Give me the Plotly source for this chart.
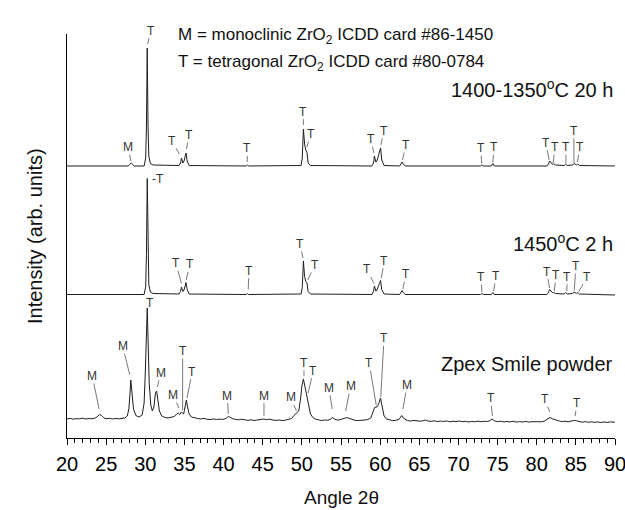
import plotly.graph_objects as go

# ---------------- data ----------------
tick_vals = [20, 25, 30, 35, 40, 45, 50, 55, 60, 65, 70, 75, 80, 85, 90]

# 1400-1350 C 20 h pattern
top_angle = [
    20, 27.8,
    28.0, 28.2, 28.4, 28.6,
    29.85, 30.05, 30.15, 30.25, 30.35, 30.45, 30.65, 31.0,
    34.3, 34.5, 34.62, 34.8, 34.95, 35.05, 35.2, 35.35, 35.6,
    42.9, 43.05, 43.2,
    49.9, 50.05, 50.2, 50.35, 50.5, 50.65, 50.8, 51.1,
    58.95, 59.15, 59.27, 59.45, 59.6, 59.9, 60.06, 60.2, 60.5,
    62.5, 62.7, 62.8, 62.95, 63.2,
    72.8, 73.0, 73.2,
    74.2, 74.4, 74.6,
    81.3, 81.5, 81.65, 81.8, 82.0, 82.15, 82.4,
    83.5, 83.7, 83.9,
    84.6, 84.78, 84.95, 85.1, 85.25, 85.45,
    90]
top_int = [
    0, 0,
    1.5, 3, 1.5, 0,
    0, 8, 40, 118, 40, 10, 2.5, 1,
    0.5, 3, 8, 3, 5, 9, 13, 5, 0.5,
    0, 1.2, 0,
    0.5, 8, 37, 22, 16, 14, 3, 0.5,
    0, 3, 10, 4, 5, 14, 18, 6, 0.5,
    0, 2, 4, 2, 0,
    0, 1, 0,
    0, 2.5, 0,
    0, 2, 5, 3.5, 1.8, 2.2, 1,
    0.5, 2, 0.5,
    1, 2.5, 1.5, 1, 2, 0.5,
    0]

# 1450 C 2 h pattern
mid_angle = [
    20, 27.8,
    28.0, 28.2, 28.4, 28.6,
    29.85, 30.05, 30.15, 30.25, 30.35, 30.45, 30.65, 31.0,
    34.3, 34.5, 34.62, 34.8, 34.95, 35.05, 35.2, 35.35, 35.6,
    42.9, 43.05, 43.2,
    49.9, 50.05, 50.2, 50.35, 50.5, 50.65, 50.8, 51.1,
    58.95, 59.15, 59.27, 59.45, 59.6, 59.9, 60.06, 60.2, 60.5,
    62.5, 62.7, 62.8, 62.95, 63.2,
    72.8, 73.0, 73.2,
    74.2, 74.4, 74.6,
    81.3, 81.5, 81.65, 81.8, 82.0, 82.15, 82.4,
    83.5, 83.7, 83.9,
    84.6, 84.78, 84.95, 85.1, 85.25, 85.45,
    90]
mid_int = [
    0, 0,
    0, 0.3, 0, 0,
    0, 8, 40, 116, 40, 10, 2.5, 1,
    0.5, 3, 7.5, 3, 4.5, 8, 12, 5, 0.5,
    0, 1, 0,
    0.5, 7, 33.5, 18, 13, 12, 3, 0.5,
    0, 3, 8.5, 3.5, 4.5, 11, 14, 5, 0.5,
    0, 2, 4, 2, 0,
    0, 1, 0,
    0, 2, 0,
    0, 2, 5, 3.5, 1.8, 2, 1,
    0.5, 2, 0.5,
    1, 2.5, 1.5, 1, 2, 0.5,
    -0.5]

# Zpex Smile powder pattern
bot_angle = [
    20.0, 20.4, 20.8, 21.2, 21.6, 22.0, 22.4, 22.8, 23.2, 23.6,
    23.9, 24.15, 24.4, 24.7, 25.0, 25.4, 25.8, 26.2, 26.6, 27.0,
    27.4, 27.7, 27.9, 28.05, 28.15, 28.3, 28.5, 28.8, 29.2, 29.6,
    29.85, 30.0, 30.15, 30.25, 30.35, 30.5, 30.7, 30.9, 31.1, 31.3,
    31.45, 31.6, 31.8, 32.1, 32.5, 32.9, 33.3, 33.7, 34.0, 34.2,
    34.4, 34.6, 34.75, 34.9, 35.1, 35.25, 35.4, 35.6, 35.9, 36.3,
    36.7, 37.1, 37.5, 37.9, 38.3, 38.7, 39.1, 39.5, 39.9, 40.3,
    40.6, 40.8, 41.1, 41.5, 41.9, 42.3, 42.7, 43.1, 43.5, 43.9,
    44.3, 44.7, 45.1, 45.5, 45.9, 46.3, 46.7, 47.1, 47.5, 47.9,
    48.3, 48.7, 49.0, 49.3, 49.6, 49.85, 50.0, 50.2, 50.4, 50.6,
    50.75, 50.9, 51.1, 51.4, 51.7, 52.1, 52.5, 52.9, 53.3, 53.6,
    53.9, 54.2, 54.6, 55.0, 55.4, 55.7, 56.0, 56.4, 56.8, 57.2,
    57.6, 58.0, 58.4, 58.8, 59.1, 59.3, 59.6, 59.85, 60.05, 60.25,
    60.5, 60.8, 61.2, 61.6, 62.0, 62.4, 62.75, 63.1, 63.5, 63.9,
    64.3, 64.7, 65.1, 65.5, 65.8, 66.1, 66.5, 66.9, 67.3, 67.7,
    68.1, 68.5, 68.9, 69.3, 69.7, 70.1, 70.5, 70.9, 71.3, 71.7,
    72.1, 72.5, 72.9, 73.3, 73.7, 74.0, 74.3, 74.6, 75.0, 75.4,
    75.8, 76.2, 76.6, 77.0, 77.4, 77.8, 78.2, 78.6, 79.0, 79.4,
    79.8, 80.2, 80.6, 81.0, 81.4, 81.7, 82.0, 82.4, 82.8, 83.2,
    83.6, 84.0, 84.4, 84.8, 85.1, 85.4, 85.8, 86.2, 86.6, 87.0,
    87.4, 87.8, 88.2, 88.6, 89.0, 89.4, 89.8, 90.0]
bot_int = [
    4.0, 4.6, 3.8, 4.4, 4.1, 4.8, 4.0, 4.5, 4.2, 5.0,
    6.5, 8.5, 7.5, 5.2, 4.3, 4.7, 4.0, 4.5, 4.2, 4.9,
    5.0, 7.0, 14, 30, 43, 30, 14, 7.5, 6.0, 8.0,
    20, 50, 95, 115, 85, 40, 18, 12, 16, 30,
    32, 22, 12, 7.0, 5.5, 5.0, 5.4, 6.5, 9.0, 10,
    8.5, 11, 10, 9.0, 17, 23, 16, 9.0, 6.0, 5.0,
    4.5, 4.0, 4.6, 3.8, 3.4, 4.1, 3.5, 3.9, 3.6, 4.5,
    6.5, 6.0, 4.5, 3.6, 3.2, 3.8, 3.0, 2.6, 3.2, 2.5,
    3.0, 3.6, 4.0, 3.4, 3.8, 3.0, 2.6, 3.0, 2.4, 2.9,
    3.4, 4.5, 7.5, 9.5, 12, 25, 37, 44, 36, 28,
    20, 14, 9.0, 5.5, 4.0, 3.2, 2.5, 3.0, 2.7, 3.5,
    5.5, 3.8, 2.8, 3.6, 5.0, 5.4, 4.8, 3.5, 2.7, 2.4,
    2.8, 2.5, 3.3, 5.0, 11, 15.5, 16, 20, 25, 16,
    7.0, 4.0, 3.0, 2.4, 2.7, 3.5, 7.5, 4.0, 2.4, 2.0,
    2.6, 2.2, 1.8, 2.3, 3.0, 2.0, 1.6, 2.2, 1.4, 1.9,
    1.5, 2.1, 1.2, 1.8, 1.4, 2.0, 1.3, 1.7, 1.0, 1.6,
    1.2, 1.9, 1.3, 1.7, 1.5, 2.2, 4.0, 2.2, 1.3, 1.8,
    1.0, 1.5, 1.1, 1.7, 0.9, 1.4, 1.0, 1.6, 0.9, 1.3,
    1.1, 1.6, 1.2, 2.0, 3.8, 5.5, 4.2, 3.0, 2.2, 1.4,
    1.9, 1.2, 1.8, 2.6, 2.2, 1.3, 0.8, 1.4, 0.7, 1.2,
    0.6, 1.1, 0.5, 1.0, 0.6, 1.1, 0.5, 0.8]

# peak labels: text, label position, leader-line tip (None = no line)
top_lbl_text = ['M', 'T', 'T', 'T', 'T', 'T', 'T', 'T', 'T', 'T', 'T', 'T', 'T', 'T', 'T', 'T', 'T']
top_lbl_x = [27.83, 30.73, 33.37, 35.62, 43.03, 50.18, 51.12, 58.82, 60.49, 63.3, 72.84, 74.53, 81.17, 82.33, 83.73, 84.75, 85.52]
top_lbl_h = [19, 135.3, 25.3, 31, 17.7, 54.3, 32, 26.7, 35.3, 21, 17.7, 18.7, 23.3, 18.7, 18.7, 35.3, 18.7]
top_tip_x = [28.15, 30.3, 34.35, 35.25, 43.03, 50.2, 50.65, 59.2, 60.1, 62.85, 72.97, 74.4, 81.58, 82.1, 83.73, 84.75, 85.2]
top_tip_h = [5, 122, 12, 17, 4, 41, 19, 13, 21, 6, 2.5, 4, 6, 3, 3, 3, 4]

mid_lbl_text = ['-T', 'T', 'T', 'T', 'T', 'T', 'T', 'T', 'T', 'T', 'T', 'T', 'T', 'T', 'T', 'T']
mid_lbl_x = [31.56, 33.92, 35.7, 43.24, 49.76, 51.67, 58.35, 60.53, 63.3, 72.87, 74.79, 81.26, 82.45, 83.9, 85.0, 86.45]
mid_lbl_h = [115.2, 31.2, 30.2, 23.8, 50.5, 29.5, 25.2, 33.8, 20.5, 17.2, 18.5, 22.8, 19.5, 17.8, 28.5, 17.8]
mid_tip_x = [None, 34.62, 35.22, 43.15, 50.15, 50.75, 59.2, 60.15, 62.9, 73.0, 74.5, 81.65, 82.25, 83.85, 84.8, 85.4]
mid_tip_h = [None, 11, 14.5, 5, 36.5, 14.5, 11, 16.5, 5.5, 2.5, 3.5, 6.5, 3.5, 3.5, 4, 3]

bot_lbl_text = ['M', 'M', 'T', 'M', 'M', 'T', 'T', 'M', 'M', 'M', 'T', 'T', 'M', 'M', 'T', 'T', 'M', 'T', 'T', 'T']
bot_lbl_x = [23.23, 27.11, 30.6, 31.96, 33.58, 34.77, 36.0, 40.47, 45.16, 48.6, 50.27, 51.46, 53.46, 56.23, 58.6, 60.49, 63.46, 74.11, 81.05, 85.17]
bot_lbl_h = [47, 77, 120.3, 50.3, 28, 72, 51.3, 27.3, 27.3, 25.7, 60.3, 52.3, 35.3, 37, 59.7, 84.7, 38, 24.7, 24, 19.7]
bot_tip_x = [24.1, 28.02, None, 31.55, 34.3, 34.77, 35.33, 40.6, 45.16, 49.3, 50.27, 50.8, 53.88, 55.6, 59.5, 60.08, 62.9, 74.35, 81.65, 84.9]
bot_tip_h = [14, 48, None, 36, 15, 13, 25, 9, 7, 12, 47, 30, 14, 12, 18, 26, 14, 7, 11, 7]

pattern_names = ['1400-1350<sup>o</sup>C 20 h', '1450<sup>o</sup>C 2 h', 'Zpex Smile powder']
legend_lines = ['M = monoclinic ZrO<sub>2</sub> ICDD card #86-1450',
                'T = tetragonal ZrO<sub>2</sub> ICDD card #80-0784']

# ---------------- layout constants ----------------
offsets = [272, 143.5, 15]          # vertical stacking offsets
name_y = [349.5, 195.5, 74]
FONT = 'Liberation Sans, Arial, sans-serif'
LINE_COL = '#1e1e1e'

fig = go.Figure()
patterns = [(top_angle, top_int), (mid_angle, mid_int), (bot_angle, bot_int)]
for (ax_, it_), off in zip(patterns, offsets):
    fig.add_trace(go.Scatter(x=ax_, y=[v + off for v in it_], mode='lines',
                             line=dict(color=LINE_COL, width=1), hoverinfo='skip'))

annotations = []
label_sets = [
    (top_lbl_text, top_lbl_x, top_lbl_h, top_tip_x, top_tip_h),
    (mid_lbl_text, mid_lbl_x, mid_lbl_h, mid_tip_x, mid_tip_h),
    (bot_lbl_text, bot_lbl_x, bot_lbl_h, bot_tip_x, bot_tip_h),
]
for (txt, lx, lh, tx, th), off in zip(label_sets, offsets):
    for t, x0, h0, x1, h1 in zip(txt, lx, lh, tx, th):
        if x1 is None:
            annotations.append(dict(x=x0, y=h0 + off, xref='x', yref='y', text=t,
                                    showarrow=False, font=dict(family=FONT, size=12, color='#333')))
        else:
            annotations.append(dict(x=x1, y=h1 + off, ax=x0, ay=h0 + off,
                                    xref='x', yref='y', axref='x', ayref='y', text=t,
                                    showarrow=True, arrowhead=0, arrowwidth=0.8,
                                    arrowcolor='#555', standoff=0, borderpad=0,
                                    font=dict(family=FONT, size=12, color='#333')))

for name, y in zip(pattern_names, name_y):
    annotations.append(dict(x=90, y=y, xref='x', yref='y', text=name, showarrow=False,
                            xanchor='right', yanchor='middle',
                            font=dict(family=FONT, size=20, color='#111')))

for line, y in zip(legend_lines, [402, 375.3]):
    annotations.append(dict(x=33.95, y=y, xref='x', yref='y', text=line, showarrow=False,
                            xanchor='left', yanchor='middle',
                            font=dict(family=FONT, size=17, color='#111')))

annotations.append(dict(x=0.5, y=-0.148, xref='paper', yref='paper', text='Angle 2θ',
                        showarrow=False, xanchor='center', yanchor='middle',
                        font=dict(family=FONT, size=19, color='#111')))
annotations.append(dict(x=-0.0584, y=0.5, xref='paper', yref='paper',
                        text='Intensity (arb. units)', textangle=-90, showarrow=False,
                        xanchor='center', yanchor='middle',
                        font=dict(family=FONT, size=20, color='#111')))

fig.update_layout(
    width=625, height=510,
    margin=dict(l=67, r=10, t=34, b=72, autoexpand=False),
    paper_bgcolor='white', plot_bgcolor='white',
    showlegend=False,
    annotations=annotations,
    xaxis=dict(range=[20, 90], tickmode='array', tickvals=tick_vals,
               ticks='outside', ticklen=6, tickwidth=1, tickcolor='black',
               showline=True, linecolor='black', linewidth=1,
               showgrid=False, zeroline=False, ticklabelstandoff=2,
               ticklabeloverflow='allow', automargin=False,
               tickfont=dict(family=FONT, size=20, color='black'),
               minor=dict(ticks='outside', dtick=1, tick0=20, ticklen=4,
                          tickwidth=1, tickcolor='black', showgrid=False)),
    yaxis=dict(range=[0, 404], showline=True, linecolor='black', linewidth=1,
               showticklabels=False, ticks='', showgrid=False, zeroline=False,
               automargin=False),
)

fig.write_html('out.html')
